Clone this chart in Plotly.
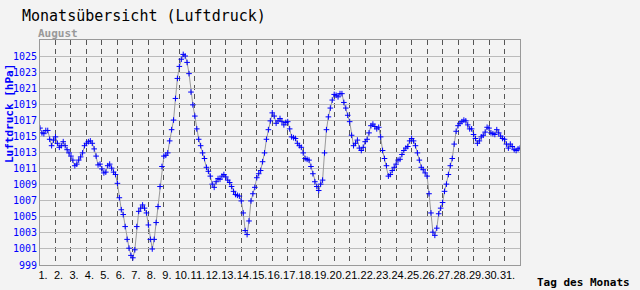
import plotly.graph_objects as go

# readings every 3 hours, starting 1 August 00:00
step_hours = 3
pressure_hpa = [
    1016.1, 1015.5, 1015.4, 1015.8, 1015.8, 1014.7, 1013.9, 1014.6,
    1015.0, 1014.2, 1013.7, 1013.9, 1014.4, 1013.9, 1013.4, 1013.0,
    1012.6, 1012.1, 1011.4, 1011.6, 1012.1, 1012.5, 1013.0, 1013.9,
    1014.2, 1014.4, 1014.5, 1014.2, 1013.5, 1012.6, 1011.5, 1011.6,
    1011.0, 1010.5, 1010.6, 1011.4, 1011.6, 1011.1, 1010.6, 1010.3,
    1009.2, 1007.4, 1005.9, 1005.3, 1003.8, 1002.2, 1001.1, 1000.2,
    999.9, 1000.9, 1003.8, 1005.7, 1006.1, 1006.5, 1006.1, 1005.5,
    1004.0, 1002.2, 1001.0, 1002.2, 1004.3, 1006.3, 1008.8, 1011.3,
    1012.6, 1012.7, 1013.0, 1014.5, 1015.9, 1017.1, 1019.8, 1022.3,
    1023.8, 1024.7, 1025.3, 1025.1, 1024.3, 1022.9, 1020.6, 1019.0,
    1017.6, 1016.0, 1014.7, 1013.9, 1013.0, 1012.3, 1011.2, 1010.7,
    1010.1, 1009.1, 1008.7, 1009.4, 1009.8, 1009.7, 1010.1, 1010.3,
    1010.0, 1009.6, 1009.3, 1008.8, 1008.2, 1007.8, 1007.7, 1007.6,
    1007.0, 1005.5, 1003.3, 1002.8, 1004.5, 1007.0, 1007.9, 1008.7,
    1009.9, 1010.4, 1010.8, 1011.9, 1013.0, 1014.7, 1015.9, 1017.0,
    1018.0, 1017.6, 1016.7, 1017.0, 1017.3, 1016.9, 1016.5, 1016.8,
    1016.9, 1016.0, 1015.0, 1014.9, 1014.8, 1014.2, 1013.9, 1013.7,
    1013.0, 1012.3, 1012.2, 1012.1, 1011.3, 1010.4, 1009.4, 1008.8,
    1008.3, 1009.1, 1009.6, 1013.0, 1015.9, 1017.5, 1018.6, 1019.6,
    1020.3, 1020.2, 1020.0, 1020.4, 1020.4, 1019.3, 1018.6, 1017.7,
    1016.9, 1015.2, 1013.9, 1014.2, 1014.6, 1013.6, 1013.3, 1013.7,
    1014.4, 1014.7, 1015.5, 1016.4, 1016.6, 1016.3, 1016.0, 1016.2,
    1015.0, 1013.3, 1012.3, 1011.4, 1010.1, 1010.3, 1010.8, 1011.2,
    1011.6, 1012.1, 1012.2, 1012.8, 1013.3, 1013.6, 1013.8, 1014.5,
    1014.8, 1014.5, 1013.9, 1013.0, 1012.1, 1011.2, 1010.9, 1010.5,
    1010.1, 1007.9, 1005.5, 1003.1, 1002.7, 1003.6, 1005.4, 1006.1,
    1006.8, 1008.2, 1009.1, 1010.3, 1011.4, 1012.3, 1014.1, 1015.7,
    1016.4, 1016.7, 1016.9, 1017.1, 1017.0, 1016.5, 1016.0, 1016.0,
    1015.3, 1014.8, 1014.2, 1014.5, 1015.0, 1015.2, 1015.6, 1016.2,
    1016.1, 1015.5, 1015.4, 1015.3, 1015.9, 1015.5, 1015.1, 1014.8,
    1014.7, 1014.1, 1013.6, 1014.1, 1013.8, 1013.4, 1013.3, 1013.5,
    1013.6,
]
day_ticks = list(range(1, 32))
day_labels = [f"{d}." for d in day_ticks]
y_ticks = list(range(999, 1026, 2))
y_labels = [str(v) for v in y_ticks]

title_text = "Monatsübersicht (Luftdruck)"
subtitle_text = "August"
x_title = "Tag des Monats"
y_title = "Luftdruck [hPa]"

x_days = [1 + i * step_hours / 24 for i in range(len(pressure_hpa))]

BG = "#f3f3f3"
BLUE = "#0000ff"
MONO = "DejaVu Sans Mono"

fig = go.Figure()
fig.add_trace(go.Scatter(
    x=x_days, y=pressure_hpa, mode="lines+markers",
    line=dict(color="#999999", width=1),
    marker=dict(symbol="cross-thin", size=4, color=BLUE,
                line=dict(color=BLUE, width=1)),
    showlegend=False, hoverinfo="skip",
))

fig.update_layout(
    width=640, height=290,
    margin=dict(l=40, r=120, t=40, b=25),
    paper_bgcolor=BG, plot_bgcolor=BG,
    font=dict(family=MONO, size=10, color="black"),
    xaxis=dict(
        range=[1, 32], tickvals=day_ticks, ticktext=day_labels,
        tickangle=0, automargin=False,
        showgrid=True, gridcolor="#555555", gridwidth=1, griddash="5px,4px",
        showline=True, linecolor="#999999", linewidth=1, mirror=True,
        ticks="", zeroline=False, ticklabelshift=3,
        tickfont=dict(family="Liberation Sans", size=11, color="black"),
    ),
    yaxis=dict(
        range=[999, 1027.1], tickvals=y_ticks, ticktext=y_labels,
        automargin=False,
        showgrid=True, gridcolor="#bbbbbb", gridwidth=1,
        showline=True, linecolor="#999999", linewidth=1, mirror=True,
        ticks="", zeroline=False,
        tickfont=dict(family=MONO, size=10, color=BLUE),
    ),
    annotations=[
        dict(text=title_text, xref="paper", yref="paper", x=-20 / 480, y=1 + 24 / 225,
             xanchor="left", yanchor="middle", showarrow=False,
             font=dict(family=MONO, size=15, color="black")),
        dict(text=f"<b>{subtitle_text}</b>", xref="paper", yref="paper", x=-4 / 480,
             y=1 + 7 / 225,
             xanchor="left", yanchor="middle", showarrow=False,
             font=dict(family=MONO, size=11, color="#9a9a9a")),
        dict(text=f"<b>{x_title}</b>", xref="paper", yref="paper", x=1 + 15 / 480,
             y=-17 / 225,
             xanchor="left", yanchor="middle", showarrow=False,
             font=dict(family=MONO, size=11, color="black")),
        dict(text=f"<b>{y_title}</b>", xref="paper", yref="paper", x=-31 / 480,
             y=(265 - 114) / 225,
             xanchor="center", yanchor="middle", showarrow=False, textangle=-90,
             font=dict(family=MONO, size=11, color=BLUE)),
    ],
)

fig.write_html("out.html")
